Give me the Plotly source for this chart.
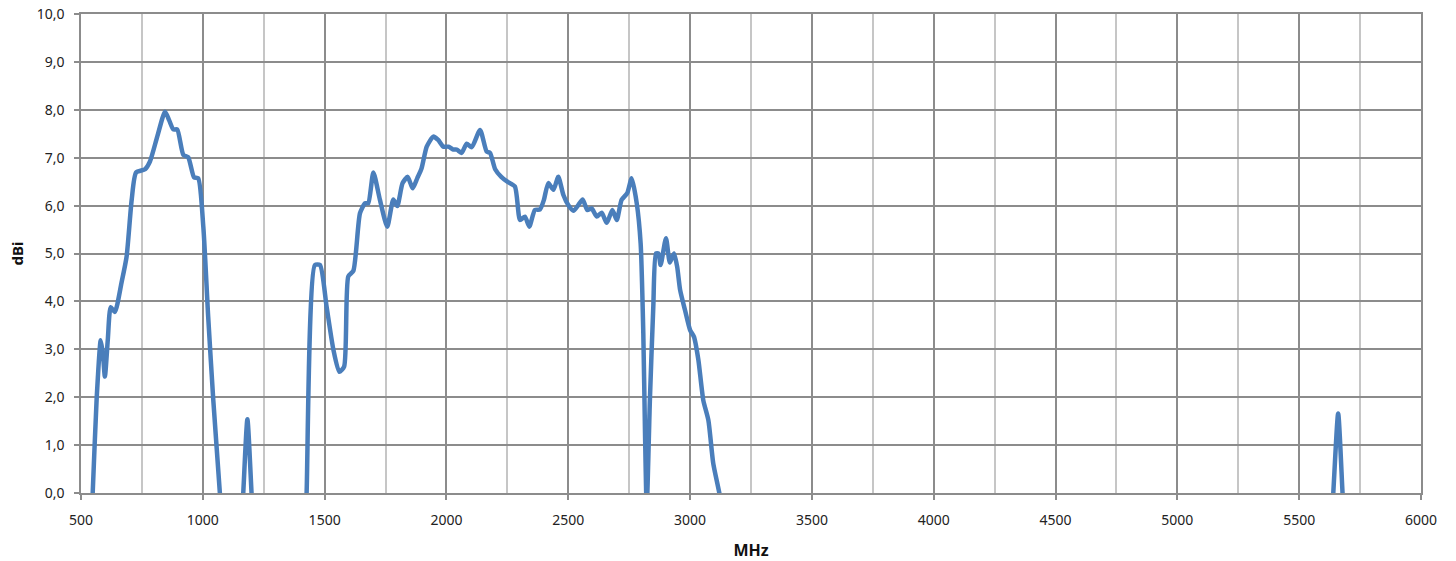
import plotly.graph_objects as go

freq_mhz = [540, 548, 564, 581, 590, 598, 610, 622, 639, 667, 687, 708, 726, 763, 783, 813, 845, 862, 879, 895,
            920, 940, 964, 981, 1002, 1022, 1043, 1070, 1085, 1120, 1158,
            1166, 1183, 1200, 1208, 1300, 1418,
            1426, 1460, 1481, 1508, 1536, 1560, 1580, 1597, 1618, 1645, 1666, 1679, 1700, 1727, 1757,
            1782, 1798, 1820, 1841, 1861, 1880, 1898, 1919, 1946, 1966, 1987, 2008, 2028, 2042, 2062, 2083,
            2104, 2138, 2165, 2179, 2200, 2225, 2250, 2281, 2302, 2322, 2340, 2363, 2384, 2400, 2418, 2439,
            2459, 2480, 2500, 2521, 2541, 2559, 2578, 2596, 2617, 2637, 2658, 2681, 2699, 2719, 2742, 2760,
            2781, 2797, 2808, 2815, 2822, 2835, 2849, 2860, 2870, 2879, 2901, 2917, 2934, 2947, 2959, 2979,
            3000, 3016, 3034, 3054, 3075, 3095, 3120, 3135, 4000, 5632, 5640, 5660, 5678, 5686, 6000]

gain_dbi = [-0.8, 0.0, 1.94, 3.19, 2.9, 2.43, 3.2, 3.88, 3.78, 4.41, 4.93, 6.12, 6.69, 6.76, 6.92, 7.44, 7.96, 7.78, 7.59, 7.59,
            7.06, 7.01, 6.59, 6.57, 5.56, 3.68, 1.94, 0.0, -1.2, -3.0, -0.72,
            0.0, 1.54, 0.0, -0.7, -5.0, -1.1,
            0.0, 4.76, 4.76, 3.89, 2.99, 2.53, 2.64, 4.52, 4.64, 5.84, 6.05, 6.05, 6.69, 6.12, 5.56,
            6.13, 5.99, 6.47, 6.6, 6.36, 6.57, 6.78, 7.23, 7.44, 7.37, 7.23, 7.23, 7.17, 7.17, 7.1, 7.29,
            7.22, 7.58, 7.13, 7.1, 6.76, 6.6, 6.5, 6.4, 5.7, 5.77, 5.56, 5.91, 5.92, 6.12, 6.47, 6.33,
            6.6, 6.22, 6.01, 5.89, 6.01, 6.13, 5.91, 5.94, 5.77, 5.85, 5.64, 5.91, 5.7, 6.12, 6.26, 6.57,
            6.05, 5.21, 3.33, 1.25, -0.3, 1.94, 3.89, 5.0, 5.0, 4.76, 5.32, 4.81, 5.0, 4.72, 4.24, 3.82,
            3.4, 3.26, 2.78, 1.94, 1.52, 0.62, 0.0, -0.5, -5.0, -0.66, 0.0, 1.66, 0.0, -0.66, -5.0]

x_ticks = [500, 1000, 1500, 2000, 2500, 3000, 3500, 4000, 4500, 5000, 5500, 6000]
y_ticks = [0, 1, 2, 3, 4, 5, 6, 7, 8, 9, 10]
y_tick_labels = ["0,0", "1,0", "2,0", "3,0", "4,0", "5,0", "6,0", "7,0", "8,0", "9,0", "10,0"]

GRID = "#8c8c8c"
MINOR = "#c6c6c6"
FONT = "Noto Sans"

fig = go.Figure()
fig.add_trace(go.Scatter(
    x=freq_mhz, y=gain_dbi, mode="lines",
    line=dict(color="#4a7ebb", width=4.5, shape="spline", smoothing=0.6),
    showlegend=False,
))

fig.update_layout(
    width=1456, height=561,
    margin=dict(l=81, r=35, t=14, b=68, autoexpand=False),
    paper_bgcolor="white", plot_bgcolor="white",
    font=dict(family=FONT, size=14, color="#222222"),
    xaxis=dict(
        range=[500, 6000], tickvals=x_ticks, ticktext=[str(v) for v in x_ticks],
        showgrid=True, gridcolor=GRID, gridwidth=1.5,
        minor=dict(dtick=250, tick0=500, showgrid=True, gridcolor=MINOR, gridwidth=1.5),
        showline=True, linecolor=GRID, linewidth=1.5, mirror=True,
        ticks="outside", ticklen=5, tickcolor=GRID, tickwidth=1.5,
        ticklabelstandoff=8, ticklabeloverflow="allow",
        zeroline=False, automargin=False,
        title=dict(text="<b>MHz</b>", font=dict(family=FONT, size=16, color="#111111"), standoff=23),
        tickfont=dict(family=FONT, size=14, color="#222222"),
    ),
    yaxis=dict(
        range=[0, 10], tickvals=y_ticks, ticktext=y_tick_labels,
        showgrid=True, gridcolor=GRID, gridwidth=1.5,
        showline=True, linecolor=GRID, linewidth=1.5, mirror=True,
        ticks="outside", ticklen=5, tickcolor=GRID, tickwidth=1.5,
        ticklabelstandoff=7, ticklabeloverflow="allow",
        zeroline=False, automargin=False,
        tickfont=dict(family=FONT, size=14, color="#222222"),
    ),
    annotations=[dict(
        text="<b>dBi</b>", xref="paper", yref="paper", x=-0.0478, y=0.5,
        xanchor="center", yanchor="middle", textangle=-90, showarrow=False,
        font=dict(family=FONT, size=15, color="#111111"),
    )],
)

fig.write_html("out.html", config={"displayModeBar": False},
               post_script="document.body.style.margin='0';")
